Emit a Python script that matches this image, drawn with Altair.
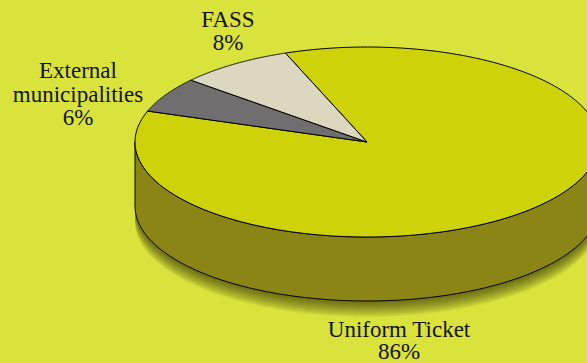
import numpy as np
import pandas as pd
import altair as alt

# Revenue shares drawn as a tilted, extruded pie
categories = ["Uniform Ticket", "External municipalities", "FASS"]
shares = [86, 6, 8]
slice_colors = ["#cdd308", "#716e70", "#dcd8c0"]

BACKGROUND = "#d9e33b"
WALL = "#8b8516"
INK = "#111111"

W, H = 587, 363
CX, CY, RX, RY, DEPTH = 367.0, 142.0, 232.0, 95.0, 64.0
START_DEG = 110.6  # upper edge of the largest slice, sweeping clockwise

# The scales work in pie-radius units so that the tilt lives in the scale ranges
x_scale = alt.Scale(domain=[-CX / RX, (W - CX) / RX], range=[0, W], nice=False, zero=False)
y_scale = alt.Scale(domain=[CY / RY, (CY - H) / RY], range=[0, H], nice=False, zero=False)
thickness = DEPTH / RY


def frame(xs, ys, **extra):
    df = pd.DataFrame({"x": xs, "y": ys, "i": np.arange(len(xs))})
    for key, val in extra.items():
        df[key] = val
    return df


def slice_frame():
    parts = []
    a = START_DEG
    for name, share in zip(categories, shares):
        sweep = 360.0 * share / sum(shares)
        t = np.radians(np.linspace(a, a - sweep, 180))
        xs = np.r_[0, np.cos(t), 0]
        ys = np.r_[0, np.sin(t), 0]
        parts.append(frame(xs, ys, category=name))
        a -= sweep
    return pd.concat(parts, ignore_index=True)


def wall_frame():
    t = np.radians(np.linspace(180, 360, 180))
    xs = np.r_[np.cos(t), np.cos(t[::-1]), np.cos(t[0])]
    ys = np.r_[np.sin(t), np.sin(t[::-1]) - thickness, np.sin(t[0])]
    return frame(xs, ys)


def shadow_frame(levels=16):
    # Stacked translucent copies of the base edge, each a pixel lower, fade out as a soft shadow
    parts = []
    t = np.radians(np.linspace(180, 360, 180))
    for k in range(levels):
        drop = thickness + (1.0 + k) / RY
        xs = np.r_[np.cos(t), np.cos(t[0])]
        ys = np.r_[np.sin(t) - drop, np.sin(t[0])]
        parts.append(frame(xs, ys, level=k))
    return pd.concat(parts, ignore_index=True)


def outline(df, **mark):
    base = alt.Chart(df).mark_line(clip=True, interpolate="linear", **mark)
    return base.encode(
        x=alt.X("x:Q", scale=x_scale, axis=None),
        y=alt.Y("y:Q", scale=y_scale, axis=None),
        order=alt.Order("i:Q"),
    )


# Full-bleed backdrop so the page edges take the same colour as the rest
backdrop = (
    alt.Chart(pd.DataFrame({"k": [0]}))
    .mark_rect(color=BACKGROUND, clip=False)
    .encode(x=alt.value(-4), x2=alt.value(W + 4), y=alt.value(-4), y2=alt.value(H + 4))
)

shadow = outline(shadow_frame(), fill="#2a2a00", fillOpacity=0.05, strokeWidth=0, strokeOpacity=0).encode(
    detail="level:N"
)
wall = outline(wall_frame(), fill=WALL, stroke="black", strokeWidth=1)

slices = [
    outline(slice_frame().query("category == @name"), fill=color, stroke="black", strokeWidth=1)
    for name, color in zip(categories, slice_colors)
]


def label(lines, cx, baselines):
    df = pd.DataFrame({"text": lines, "y": baselines})
    return (
        alt.Chart(df)
        .mark_text(font="Liberation Serif", fontSize=23, color=INK, align="center", baseline="alphabetic")
        .encode(x=alt.value(cx), y=alt.Y("y:Q", scale=None), text="text:N")
    )


texts = [
    label(["Uniform Ticket", f"{shares[0]}%"], 399, [337, 359]),
    label(["External", "municipalities", f"{shares[1]}%"], 78, [78, 102, 125]),
    label(["FASS", f"{shares[2]}%"], 228, [27, 50]),
]

chart = (
    alt.layer(backdrop, shadow, wall, *slices, *texts)
    .properties(width=W, height=H, background=BACKGROUND, padding=0)
    .configure_view(stroke=None)
    .configure(autosize=alt.AutoSizeParams(type="none"))
)

chart.save("out.html", embed_options={"renderer": "svg", "actions": False})
